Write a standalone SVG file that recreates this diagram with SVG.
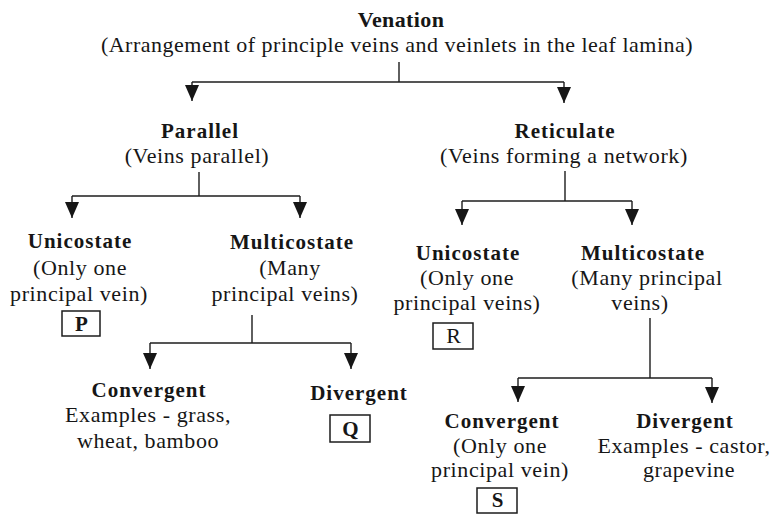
<svg xmlns="http://www.w3.org/2000/svg" width="771" height="517" viewBox="0 0 771 517">
<style>
text{font-family:"Liberation Serif","Times New Roman",serif;fill:#161616;text-anchor:middle}
.b{font-weight:bold;font-size:21px;letter-spacing:1px}
.n{font-size:22px;letter-spacing:0.6px}
.c{stroke:#1c1c1c;stroke-width:1.4;fill:none}
.box{stroke:#1c1c1c;stroke-width:1.5;fill:#fff}
</style>
<defs>
<marker id="ah" markerUnits="userSpaceOnUse" markerWidth="14" markerHeight="16" refX="7" refY="16" orient="0" viewBox="0 0 14 16">
<polygon points="0,0 14,0 7,16" fill="#161616"/>
</marker>
</defs>
<rect width="771" height="517" fill="#fff"/>
<g id="connectors">
<path class="c" d="M399,62 V82"/>
<path class="c" d="M192,82 H564"/>
<path class="c" d="M192,82 V101" marker-end="url(#ah)"/>
<path class="c" d="M564,82 V103" marker-end="url(#ah)"/>
<path class="c" d="M199,172 V196"/>
<path class="c" d="M72,196 H300"/>
<path class="c" d="M72,196 V218" marker-end="url(#ah)"/>
<path class="c" d="M300,196 V218" marker-end="url(#ah)"/>
<path class="c" d="M252,315 V343"/>
<path class="c" d="M150,343 H351"/>
<path class="c" d="M150,343 V369" marker-end="url(#ah)"/>
<path class="c" d="M351,343 V369" marker-end="url(#ah)"/>
<path class="c" d="M565,171 V201"/>
<path class="c" d="M462,201 H632"/>
<path class="c" d="M462,201 V225" marker-end="url(#ah)"/>
<path class="c" d="M632,201 V225" marker-end="url(#ah)"/>
<path class="c" d="M650,318 V378"/>
<path class="c" d="M518,378 H712"/>
<path class="c" d="M518,378 V402" marker-end="url(#ah)"/>
<path class="c" d="M712,378 V403" marker-end="url(#ah)"/>
</g>
<g id="venation">
<text x="401" y="27" style="font-weight:bold;font-size:22px;letter-spacing:0.4px">Venation</text>
<text class="n" x="397" y="52" style="letter-spacing:0.5px">(Arrangement of principle veins and veinlets in the leaf lamina)</text>
</g>
<g id="parallel">
<text class="b" x="200" y="138">Parallel</text>
<text class="n" x="197" y="163">(Veins parallel)</text>
</g>
<g id="reticulate">
<text class="b" x="565" y="138">Reticulate</text>
<text class="n" x="564" y="163">(Veins forming a network)</text>
</g>
<g id="p-unicostate">
<text class="b" x="80" y="248">Unicostate</text>
<text class="n" x="80" y="275">(Only one</text>
<text class="n" x="79" y="301">principal vein)</text>
<rect class="box" x="62" y="311" width="38" height="25"/>
<text class="b" x="82" y="331">P</text>
</g>
<g id="p-multicostate">
<text class="b" x="292" y="249">Multicostate</text>
<text class="n" x="290" y="275">(Many</text>
<text class="n" x="285" y="301">principal veins)</text>
</g>
<g id="p-convergent">
<text class="b" x="149" y="397">Convergent</text>
<text class="n" x="148" y="422">Examples - grass,</text>
<text class="n" x="148" y="448">wheat, bamboo</text>
</g>
<g id="p-divergent">
<text class="b" x="359" y="400">Divergent</text>
<rect class="box" x="330" y="415" width="40" height="27"/>
<text class="b" x="351" y="436">Q</text>
</g>
<g id="r-unicostate">
<text class="b" x="468" y="260">Unicostate</text>
<text class="n" x="467" y="285">(Only one</text>
<text class="n" x="467" y="310">principal veins)</text>
<rect class="box" x="433" y="323" width="40" height="26"/>
<text class="n" x="454" y="343">R</text>
</g>
<g id="r-multicostate">
<text class="b" x="643" y="260">Multicostate</text>
<text class="n" x="647" y="285">(Many principal</text>
<text class="n" x="640" y="310">veins)</text>
</g>
<g id="r-convergent">
<text class="b" x="502" y="428">Convergent</text>
<text class="n" x="500" y="453">(Only one</text>
<text class="n" x="500" y="477">principal vein)</text>
<rect class="box" x="477" y="488" width="40" height="25"/>
<text class="b" x="498" y="507">S</text>
</g>
<g id="r-divergent">
<text class="b" x="685" y="428">Divergent</text>
<text class="n" x="684" y="453">Examples - castor,</text>
<text class="n" x="689" y="477">grapevine</text>
</g>
</svg>
